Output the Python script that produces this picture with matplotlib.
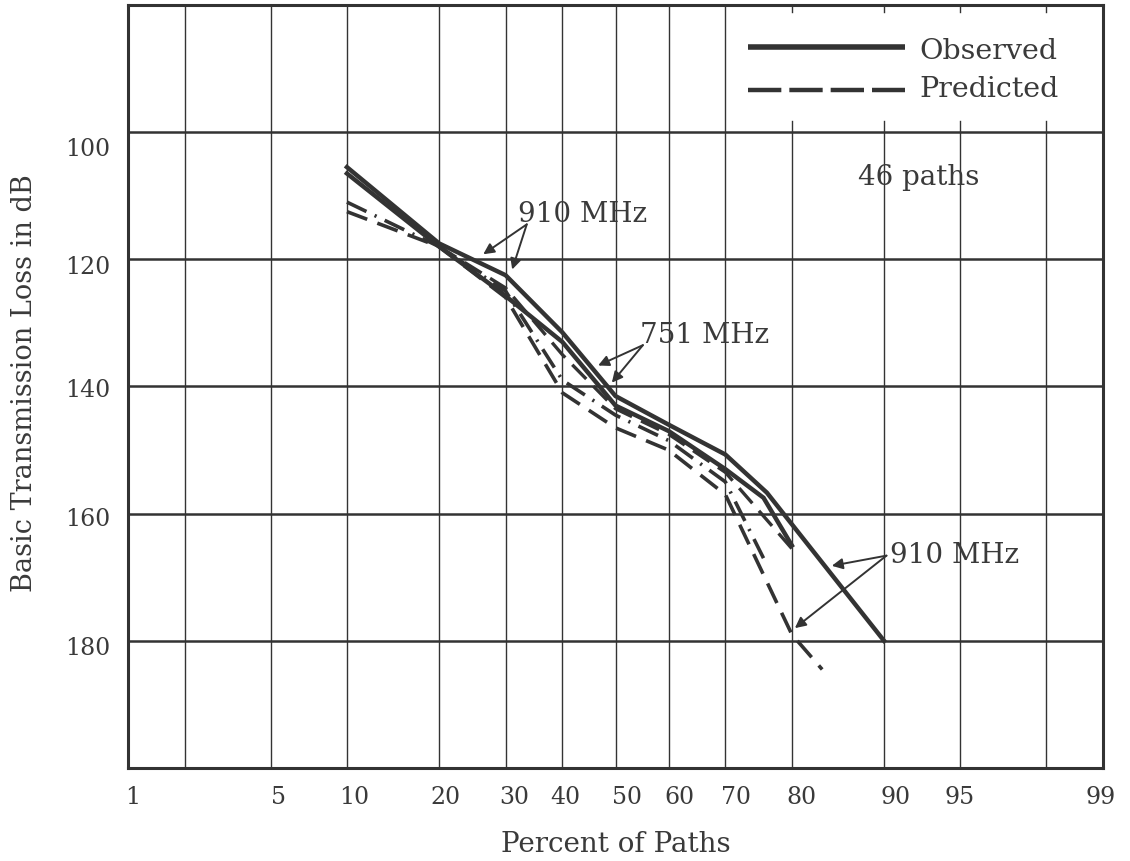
import math
import numpy as np
import matplotlib
matplotlib.use("Agg")
import matplotlib.pyplot as plt
from matplotlib.transforms import ScaledTranslation
from statistics import NormalDist

# ---------------- data ----------------
obs_910_pct = [10, 20, 30, 40, 50, 60, 70, 76.5, 90]
obs_910_db = [105.5, 117.5, 122.5, 131.5, 141.5, 146, 150.7, 156.7, 180]

obs_751_pct = [10, 20, 29, 40, 50, 60, 70, 76, 80]
obs_751_db = [106.5, 118, 125, 133, 143, 147, 153, 157.5, 165]

pred_910_pct = [10, 20, 30, 40, 50, 60, 70, 80, 83.8]
pred_910_db = [112.5, 118, 126, 141, 146.5, 150, 157, 179, 184.5]

pred_751_pct = [10, 20, 30, 40, 50, 60, 70, 76]
pred_751_db = [111, 118, 125, 139, 144.5, 148.5, 155, 167]

pred_751b_pct = [20, 30, 40, 50, 60, 70, 80]
pred_751b_db = [118, 124.5, 135, 143.5, 147.5, 153.5, 165.5]

x_ticks = [1, 5, 10, 20, 30, 40, 50, 60, 70, 80, 90, 95, 99]
x_grid = [2, 5, 10, 20, 30, 40, 50, 60, 70, 80, 90, 95, 98]
y_ticks = [100, 120, 140, 160, 180]

# ---------------- probability scale ----------------
_nd = NormalDist()


def _ppf1(p):
    if not np.isfinite(p):
        return np.nan
    q = min(max(p / 100.0, 1e-9), 1 - 1e-9)
    return _nd.inv_cdf(q)


def _cdf1(z):
    if not np.isfinite(z):
        return np.nan
    return 100.0 * 0.5 * (1 + math.erf(z / math.sqrt(2)))


_ppf = np.vectorize(_ppf1, otypes=[float])
_cdf = np.vectorize(_cdf1, otypes=[float])


def fwd(p):
    p = np.asarray(p, dtype=float)
    if p.size == 0:
        return p
    return _ppf(p)


def inv(z):
    z = np.asarray(z, dtype=float)
    if z.size == 0:
        return z
    return _cdf(z)


INK = "#333333"
TXT = "#3a3a3a"
FONT = "DejaVu Serif"

fig = plt.figure(figsize=(11.3, 8.61), dpi=100)
ax = fig.add_axes([128 / 1130, 1 - 768 / 861, (1103 - 128) / 1130, (768 - 5) / 861])
ax.set_xscale("function", functions=(fwd, inv))
ax.set_xlim(1, 99)
ax.set_ylim(200, 80)

for s in ax.spines.values():
    s.set_linewidth(2.2)
    s.set_color(INK)

# grid
for y in y_ticks:
    ax.axhline(y, color=INK, lw=1.8, zorder=1)
for x in x_grid:
    if x >= 75:
        ax.plot([x, x], [100, 200], color=INK, lw=1.0, zorder=1)
        ax.plot([x, x], [80, 81.1], color=INK, lw=1.0, zorder=1)
        ax.plot([x, x], [98.2, 100], color=INK, lw=1.0, zorder=1)
    else:
        ax.plot([x, x], [80, 200], color=INK, lw=1.0, zorder=1)

ax.set_xticks(x_ticks)
ax.set_xticklabels([str(v) for v in x_ticks])
ax.set_yticks(y_ticks)
ax.set_yticklabels([str(v) for v in y_ticks])
ax.minorticks_off()
ax.tick_params(which="both", length=0, labelsize=17, colors=TXT)
ax.tick_params(axis="x", pad=13)
ax.tick_params(axis="y", pad=13)
x_off = [5, 8, 7, 6, 9, 3, 11, 11, 11, 10, 12, -1, -2]
for lab, dx in zip(ax.get_xticklabels(), x_off):
    lab.set_fontfamily(FONT)
    lab.set_transform(lab.get_transform() + ScaledTranslation(dx / 100, 0, fig.dpi_scale_trans))
y_off = [-15, -6, -2, -3, -5]
for lab, dy in zip(ax.get_yticklabels(), y_off):
    lab.set_fontfamily(FONT)
    lab.set_transform(lab.get_transform() + ScaledTranslation(0, dy / 100, fig.dpi_scale_trans))

ax.set_xlabel("Percent of Paths", fontsize=20, fontfamily=FONT, color=TXT)
ax.xaxis.set_label_coords(0.5, (768 - 845) / 763)
ax.xaxis.label.set_va("center")
ax.set_ylabel("Basic Transmission Loss in dB", fontsize=19.5, fontfamily=FONT, color=TXT)
ax.yaxis.set_label_coords((25 - 128) / 975, (768 - 383) / 763)
ax.yaxis.label.set_va("center")

# curves
ax.plot(obs_910_pct, obs_910_db, color=INK, lw=3.2, solid_joinstyle="miter", zorder=3)
ax.plot(obs_751_pct, obs_751_db, color=INK, lw=3.2, solid_joinstyle="miter", zorder=3)
ax.plot(pred_910_pct, pred_910_db, color=INK, lw=2.6, dashes=(6, 3), zorder=3)
ax.plot(pred_751_pct, pred_751_db, color=INK, lw=2.6, dashes=(6, 2.5, 0.6, 2.5), zorder=3)
ax.plot(pred_751b_pct, pred_751b_db, color=INK, lw=2.4, dashes=(6, 3), zorder=3)

# annotations
arrow = dict(arrowstyle="-|>", color=INK, lw=1.4, mutation_scale=16, shrinkA=0, shrinkB=0)
ax.text(32.1, 113.0, "910 MHz", fontsize=20, fontfamily=FONT, color=TXT, ha="left", va="center")
for tgt in [(26.4, 119.2), (31.1, 121.6)]:
    ax.annotate("", xy=tgt, xytext=(33.6, 114.5), arrowprops=arrow)

ax.text(54.7, 132.0, "751 MHz", fontsize=20, fontfamily=FONT, color=TXT, ha="left", va="center")
for tgt in [(46.7, 136.7), (49.3, 139.4)]:
    ax.annotate("", xy=tgt, xytext=(55.2, 133.5), arrowprops=arrow)

ax.text(90.5, 166.6, "910 MHz", fontsize=20, fontfamily=FONT, color=TXT, ha="left", va="center")
for tgt in [(84.9, 168.2), (80.4, 178.0)]:
    ax.annotate("", xy=tgt, xytext=(90.2, 166.6), arrowprops=arrow)

ax.text(92.6, 107.2, "46 paths", fontsize=20, fontfamily=FONT, color=TXT, ha="center", va="center")

# legend (drawn in axes coordinates)
ax.plot([0.636, 0.797], [0.945, 0.945], transform=ax.transAxes, color=INK, lw=4.0,
        solid_capstyle="butt", zorder=3)
ax.plot([0.636, 0.797], [0.889, 0.889], transform=ax.transAxes, color=INK, lw=3.2,
        dashes=(7.5, 1.8), zorder=3)
ax.text(0.812, 0.939, "Observed", transform=ax.transAxes, fontsize=20.5, fontfamily=FONT,
        color=TXT, ha="left", va="center")
ax.text(0.812, 0.889, "Predicted", transform=ax.transAxes, fontsize=20.5, fontfamily=FONT,
        color=TXT, ha="left", va="center")

fig.savefig("out.png", dpi=100, facecolor="white")
